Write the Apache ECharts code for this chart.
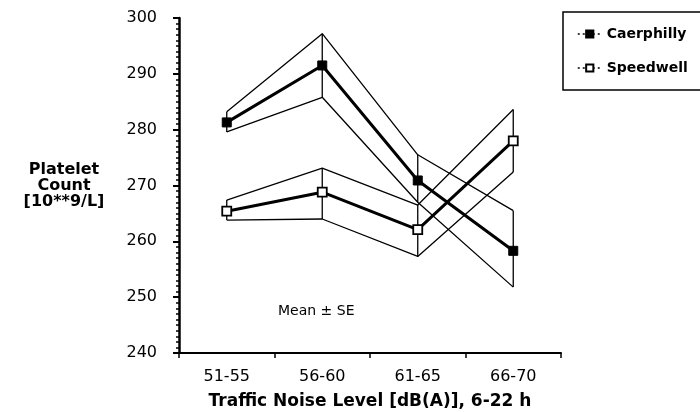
<!DOCTYPE html>
<html>
<head>
<meta charset="utf-8">
<script src="https://cdn.jsdelivr.net/npm/echarts@6/dist/echarts.min.js"></script>
<style>
html,body{margin:0;padding:0;background:#fff;}
#chart{width:700px;height:412px;}
</style>
</head>
<body>
<div id="chart"></div>
<script>
var categories = ['51-55', '56-60', '61-65', '66-70'];
var caerMean  = [281.3, 291.5, 270.9, 258.3];
var caerUpper = [283.2, 297.2, 275.5, 265.5];
var caerLower = [279.6, 285.8, 267.0, 251.8];
var speedMean  = [265.4, 268.8, 262.1, 278.0];
var speedUpper = [267.4, 273.1, 266.5, 283.6];
var speedLower = [263.8, 264.0, 257.3, 272.4];
var yTicks = [240, 250, 260, 270, 280, 290, 300];

var FONT = 'DejaVu Sans';

function vertData(lo, hi) {
  return categories.map(function (c, i) { return [i, lo[i], hi[i]]; });
}
function vertSeries(lo, hi) {
  return {
    type: 'custom',
    silent: true,
    z: 1,
    data: vertData(lo, hi),
    encode: { x: 0, y: [1, 2] },
    renderItem: function (params, api) {
      var p1 = api.coord([api.value(0), api.value(1)]);
      var p2 = api.coord([api.value(0), api.value(2)]);
      return {
        type: 'line',
        shape: { x1: p1[0], y1: p1[1], x2: p2[0], y2: p2[1] },
        style: { stroke: '#000', lineWidth: 1.3 }
      };
    }
  };
}
function bandLine(name, data) {
  return {
    name: name, type: 'line', data: data, symbol: 'none', silent: true, z: 1,
    lineStyle: { color: '#000', width: 1.3 }
  };
}

var chart = echarts.init(document.getElementById('chart'), null, { renderer: 'canvas' });
chart.setOption({
  animation: false,
  backgroundColor: '#fff',
  grid: { left: 179, right: 139, top: 18, bottom: 59, containLabel: false, outerBoundsMode: 'none' },
  legend: {
    data: ['Caerphilly', 'Speedwell'],
    orient: 'vertical',
    left: 563, top: 12,
    padding: [15, 30, 15, 14],
    itemGap: 20,
    itemWidth: 24, itemHeight: 9,
    borderColor: '#000', borderWidth: 1.5,
    lineStyle: { width: 1.5, type: [2, 3], color: '#000' },
    textStyle: { fontFamily: FONT, fontSize: 14, fontWeight: 'bold', color: '#000' }
  },
  xAxis: {
    type: 'category',
    data: categories,
    boundaryGap: true,
    name: 'Traffic Noise Level [dB(A)], 6-22 h',
    nameLocation: 'middle',
    nameGap: 40,
    nameTextStyle: { fontFamily: FONT, fontSize: 17, fontWeight: 'bold', color: '#000' },
    axisLine: { lineStyle: { color: '#000', width: 2 } },
    axisTick: { show: true, length: 5, lineStyle: { color: '#000', width: 1.5 } },
    axisLabel: { fontFamily: FONT, fontSize: 16, color: '#000', margin: 16 },
    splitLine: { show: false }
  },
  yAxis: {
    type: 'value',
    min: yTicks[0], max: yTicks[yTicks.length - 1], interval: 10,
    name: 'Platelet\nCount\n[10**9/L]',
    nameLocation: 'middle',
    nameRotate: 0,
    nameGap: 115,
    nameTextStyle: { fontFamily: FONT, fontSize: 16, fontWeight: 'bold', color: '#000', lineHeight: 16, align: 'center', padding: [0, 0, 12, 0] },
    axisLine: { show: true, lineStyle: { color: '#000', width: 2.5 } },
    axisTick: { show: true, length: 6, lineStyle: { color: '#000', width: 2 } },
    minorTick: { show: true, splitNumber: 10, length: 3, lineStyle: { color: '#000', width: 1.5 } },
    axisLabel: { fontFamily: FONT, fontSize: 16, color: '#000', margin: 22 },
    splitLine: { show: false }
  },
  graphic: [{
    type: 'text', left: 278, top: 304,
    style: { text: 'Mean ± SE', font: '14px "DejaVu Sans"', fill: '#000' }
  }],
  series: [
    bandLine('caerUpper', caerUpper),
    bandLine('caerLower', caerLower),
    bandLine('speedUpper', speedUpper),
    bandLine('speedLower', speedLower),
    vertSeries(caerLower, caerUpper),
    vertSeries(speedLower, speedUpper),
    {
      name: 'Caerphilly', type: 'line', data: caerMean, z: 3,
      symbol: 'rect', symbolSize: 9,
      itemStyle: { color: '#000', borderColor: '#000', borderWidth: 1 },
      lineStyle: { color: '#000', width: 3 }
    },
    {
      name: 'Speedwell', type: 'line', data: speedMean, z: 3,
      symbol: 'rect', symbolSize: 9,
      itemStyle: { color: '#fff', borderColor: '#000', borderWidth: 1.8 },
      lineStyle: { color: '#000', width: 3 }
    }
  ]
});
</script>
</body>
</html>
